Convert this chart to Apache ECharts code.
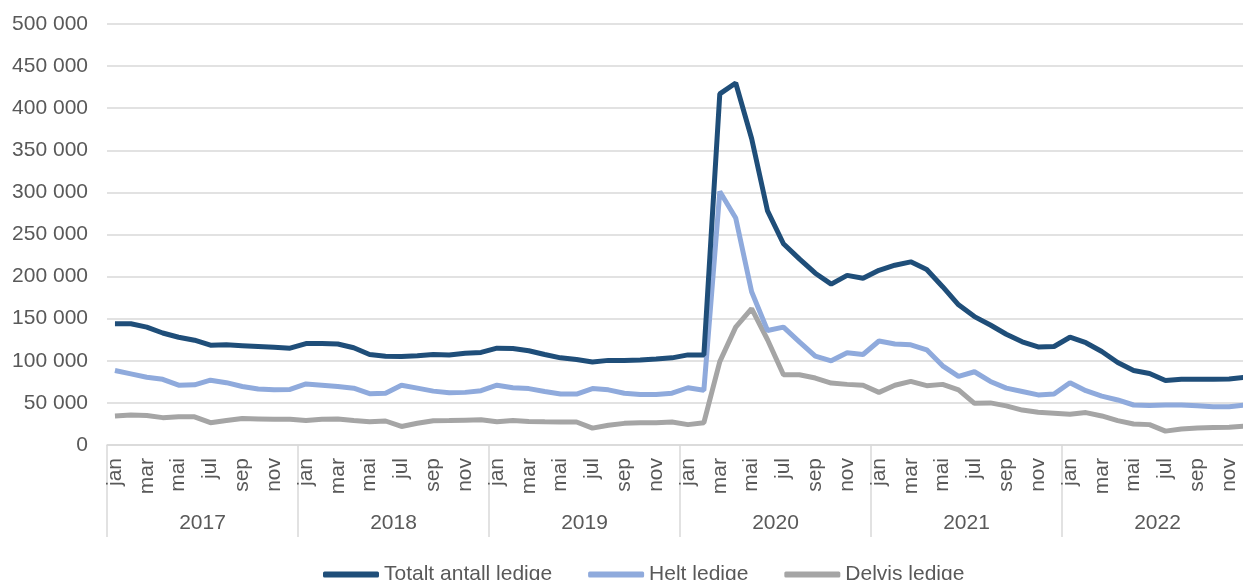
<!DOCTYPE html>
<html>
<head>
<meta charset="utf-8">
<script src="https://cdn.jsdelivr.net/npm/echarts@6/dist/echarts.min.js"></script>
<style>
  html, body { margin: 0; padding: 0; background: #fff; }
  #chart { width: 1243px; height: 580px; }
</style>
</head>
<body>
<div id="chart"></div>
<script>
const years = ['2017', '2018', '2019', '2020', '2021', '2022'];
const monthNames = ['jan', 'feb', 'mar', 'apr', 'mai', 'jun', 'jul', 'aug', 'sep', 'okt', 'nov', 'des'];

const totalt = [
  144000, 144000, 140000, 133000, 128000, 124500, 118500, 119000, 118000, 117000, 116000, 115000,
  120500, 120500, 120000, 115500, 107500, 105500, 105000, 106000, 107500, 107000, 109000, 110000,
  115000, 114500, 112000, 107500, 103500, 101500, 98500, 100500, 100500, 101000, 102000, 103500,
  107000, 107000, 417000, 430000, 364000, 278000, 239000, 221000, 204000, 191000, 201500, 198000,
  207500, 213500, 217500, 208500, 188000, 166500, 152500, 142500, 131500, 122500, 116500, 117000,
  128000, 121500, 111000, 98000, 88500, 85000, 76500, 78000, 78000, 78000, 78500, 80500
];
const helt = [
  88500, 84500, 80500, 78000, 71000, 71500, 77000, 74000, 69500, 66500, 65500, 66000,
  72500, 71000, 69500, 67500, 61000, 61500, 71000, 67500, 64000, 62000, 62500, 64500,
  71000, 68000, 67000, 63500, 60500, 60500, 67000, 65500, 61500, 60000, 60000, 61500,
  68000, 65000, 301000, 269500, 182000, 136000, 140000, 122500, 105500, 100000, 109500, 107500,
  123500, 120000, 119000, 113000, 94000, 81500, 87000, 75500, 67500, 63500, 59500, 60500,
  74000, 64500, 58000, 53500, 47500, 47000, 47500, 47500, 46500, 45500, 45500, 47500
];
const delvis = [
  34500, 35500, 35000, 32500, 33500, 33500, 26500, 29000, 31500, 31000, 30500, 30500,
  29000, 30500, 31000, 29000, 27500, 28500, 22000, 25800, 28900, 29000, 29500, 30000,
  27700, 29000, 28000, 27500, 27300, 27300, 20000, 23500, 25700, 26300, 26500, 27300,
  24200, 26500, 99000, 140000, 162000, 125000, 83500, 83500, 79500, 73500, 72000, 71000,
  62500, 71000, 75500, 70500, 72000, 65500, 49500, 50000, 46500, 41500, 38800, 37800,
  36500, 38500, 34500, 29000, 25000, 24200, 16500, 19000, 20300, 20800, 21200, 22500
];

// én kategori per måned
const months = [];
years.forEach(y => monthNames.forEach(m => months.push(m + ' ' + y)));

const textColor = '#595959';
const gridColor = '#D9D9D9';
const font = '"Liberation Sans", Arial, sans-serif';

const chart = echarts.init(document.getElementById('chart'));

function fmt(v) {
  return String(v).replace(/\B(?=(\d{3})+(?!\d))/g, ' ');
}

chart.setOption({
  animation: false,
  textStyle: { fontFamily: font },
  // plottet fortsetter litt utenfor høyre kant, som i originalen
  grid: { left: 107, width: 1146, top: 24, bottom: 135, outerBoundsMode: 'none', containLabel: false },
  legend: {
    left: 318,
    top: 559,
    icon: 'roundRect',
    itemWidth: 56,
    itemHeight: 6,
    itemGap: 36,
    textStyle: { color: textColor, fontSize: 21, fontFamily: font }
  },
  xAxis: [
    {
      type: 'category',
      data: months,
      boundaryGap: true,
      axisLine: { show: true, lineStyle: { color: gridColor, width: 1.5 } },
      axisTick: { show: false },
      axisLabel: {
        interval: 1,
        rotate: 90,
        margin: 13,
        color: textColor,
        fontSize: 21,
        formatter: v => v.split(' ')[0]
      }
    },
    {
      type: 'category',
      data: years,
      position: 'bottom',
      boundaryGap: true,
      axisLine: { show: false },
      axisTick: { show: true, length: 92, interval: 0, lineStyle: { color: gridColor, width: 1.5 } },
      axisLabel: { margin: 68, color: textColor, fontSize: 21 }
    }
  ],
  yAxis: {
    type: 'value',
    min: 0,
    max: 500000,
    interval: 50000,
    axisLine: { show: false },
    axisTick: { show: false },
    splitLine: { lineStyle: { color: gridColor, width: 1.5 } },
    axisLabel: { color: textColor, fontSize: 21, margin: 19, formatter: fmt }
  },
  series: [
    {
      name: 'Totalt antall ledige',
      type: 'line',
      data: totalt,
      symbol: 'none',
      color: '#1F4E79',
      lineStyle: { width: 5, color: '#1F4E79' },
      z: 3
    },
    {
      name: 'Helt ledige',
      type: 'line',
      data: helt,
      symbol: 'none',
      color: '#8FAADC',
      lineStyle: { width: 5, color: '#8FAADC' },
      z: 2
    },
    {
      name: 'Delvis ledige',
      type: 'line',
      data: delvis,
      symbol: 'none',
      color: '#A5A5A5',
      lineStyle: { width: 5, color: '#A5A5A5' },
      z: 1
    }
  ]
});
</script>
</body>
</html>
